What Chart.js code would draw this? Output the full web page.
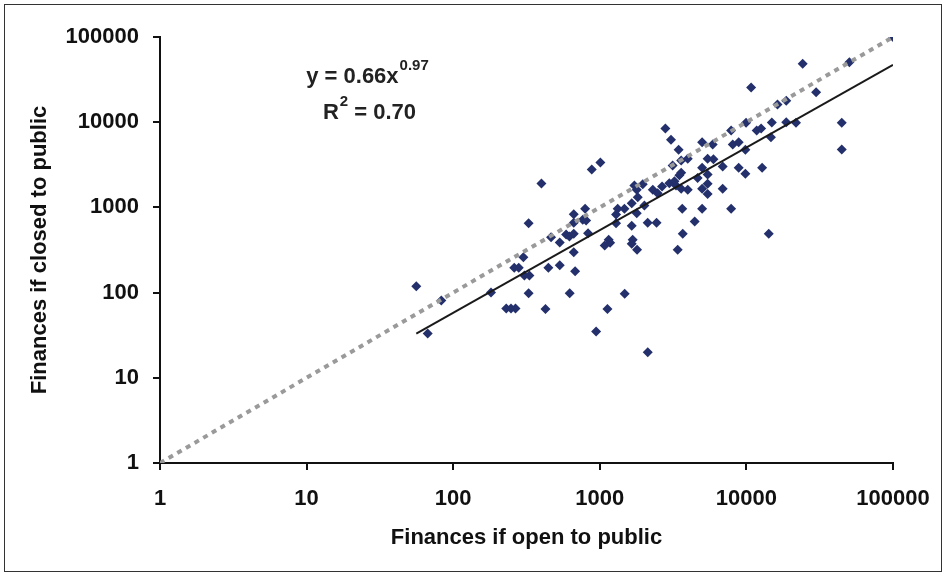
<!DOCTYPE html>
<html>
<head>
<meta charset="utf-8">
<script src="https://cdn.jsdelivr.net/npm/chart.js@4"></script>
<style>
  html, body { margin: 0; padding: 0; background: #fff; }
  canvas { display: block; }
</style>
</head>
<body>
<canvas id="chart" width="946" height="576"></canvas>
<script>
// Finances if open to public (x) vs. closed to public (y)
const openValues = [
    56, 83, 67, 181, 230, 248, 266, 327, 426, 623, 944, 1127, 1479, 2123,
    301, 261, 280, 306, 331, 446, 533, 679, 664, 533, 465, 589, 621, 664, 832,
    327, 400, 881, 1009, 664, 664, 794, 765, 807, 1080, 1150, 1176, 1291, 1325,
    1472, 1291, 1651, 1651, 1815, 1786, 1963, 1722, 1786, 1676, 1651, 1796, 2015, 2122,
    24200, 50400, 10770, 29900, 16300, 18700, 9950, 14900, 18700, 21800, 44700, 44700,
    2800, 3060, 3450, 4990, 5890, 7870, 8070, 8860, 11750, 12600, 14700, 9840,
    3980, 3590, 3140, 5440, 5960, 6890, 4990, 8860, 12800, 9840, 3590, 3490, 4650, 5440,
    2980, 3230, 3310, 2660, 2300, 2480, 3590, 3980, 4990, 5440, 5440, 6890,
    3650, 4990, 7870, 2440, 4440, 3680, 14200, 3400, 100000
];
const closedValues = [
    119, 81, 33, 100, 65, 65, 65, 98, 64, 98, 35, 64, 97, 20,
    260, 196, 196, 159, 159, 196, 210, 178, 298, 387, 447, 481, 455, 490, 498,
    653, 1910, 2790, 3370, 832, 660, 963, 715, 702, 357, 417, 385, 826, 963,
    963, 653, 608, 1120, 1318, 1610, 1872, 1807, 855, 417, 374, 318, 1052, 660,
    48400, 50600, 25500, 22500, 16100, 17900, 9840, 9900, 10000, 9840, 9840, 4780,
    8430, 6210, 4740, 5820, 5470, 7980, 5470, 5820, 7980, 8430, 6670, 4740,
    3720, 3550, 3100, 3720, 3680, 3020, 2920, 2920, 2920, 2480, 2550, 2390, 2220, 2430,
    1920, 2030, 1810, 1760, 1610, 1470, 1650, 1610, 1650, 1890, 1440, 1650,
    963, 963, 963, 660, 683, 490, 490, 318, 100000
];

// Power trend line ends (y = 0.66x^0.97) and the 1:1 reference line
const trendX = [56, 100000];
const trendY = [33, 47000];
const equalX = [1, 100000];
const equalY = [1, 100000];

const tickValues = [1, 10, 100, 1000, 10000, 100000];

const toPoints = (xs, ys) => xs.map((x, i) => ({ x: x, y: ys[i] }));

const FONT = "'Liberation Sans', Arial, sans-serif";

// Frame + white background
const framePlugin = {
    id: 'frame',
    beforeDraw(chart) {
        const c = chart.ctx;
        c.save();
        c.fillStyle = '#fff';
        c.fillRect(0, 0, chart.width, chart.height);
        c.strokeStyle = '#333';
        c.lineWidth = 1;
        c.strokeRect(4.5, 4.5, chart.width - 9, chart.height - 9);
        c.restore();
    }
};

// Trendline equation text
const equationPlugin = {
    id: 'equation',
    afterDraw(chart) {
        const c = chart.ctx;
        c.save();
        c.fillStyle = '#222';
        c.textBaseline = 'alphabetic';
        c.textAlign = 'left';

        const big = 'bold 22px ' + FONT;
        const small = 'bold 15px ' + FONT;

        // line 1: y = 0.66x^0.97
        c.font = big;
        const a = 'y = 0.66x';
        const aw = c.measureText(a).width;
        c.font = small;
        const bw = c.measureText('0.97').width;
        let x = 367 - (aw + bw) / 2;
        c.font = big;
        c.fillText(a, x, 83);
        c.font = small;
        c.fillText('0.97', x + aw + 1, 70);

        // line 2: R^2 = 0.70
        c.font = big;
        const r = 'R';
        const rw = c.measureText(r).width;
        const rest = ' = 0.70';
        const restW = c.measureText(rest).width;
        c.font = small;
        const sw = c.measureText('2').width;
        x = 369 - (rw + sw + restW) / 2;
        c.font = big;
        c.fillText(r, x, 119);
        c.font = small;
        c.fillText('2', x + rw + 1, 106);
        c.font = big;
        c.fillText(rest, x + rw + sw + 1, 119);
        c.restore();
    }
};

function logAxis(titleText, sizeFn, tickPad, titlePad) {
    return {
        type: 'logarithmic',
        min: 1,
        max: 100000,
        afterBuildTicks: (scale) => { scale.ticks = tickValues.map(v => ({ value: v })); },
        afterFit: sizeFn,
        border: { display: true, color: '#111', width: 2 },
        grid: {
            drawOnChartArea: false,
            drawTicks: true,
            tickLength: 7,
            color: '#111',
            lineWidth: 2
        },
        ticks: {
            color: '#111',
            font: { family: FONT, size: 22, weight: 'bold' },
            padding: tickPad,
            autoSkip: false,
            maxRotation: 0,
            callback: (value) => String(value)
        },
        title: {
            display: true,
            text: titleText,
            color: '#111',
            font: { family: FONT, size: 22, weight: 'bold' },
            padding: titlePad
        }
    };
}

new Chart(document.getElementById('chart'), {
    type: 'scatter',
    data: {
        datasets: [
            {
                label: 'Trend',
                type: 'line',
                data: toPoints(trendX, trendY),
                borderColor: '#1a1a1a',
                borderWidth: 2,
                pointRadius: 0,
                fill: false,
                order: 1
            },
            {
                label: 'Equal',
                type: 'line',
                data: toPoints(equalX, equalY),
                borderColor: '#9a9a9a',
                borderWidth: 4,
                borderDash: [5, 5],
                borderCapStyle: 'butt',
                pointRadius: 0,
                fill: false,
                order: 2
            },
            {
                label: 'Finances',
                data: toPoints(openValues, closedValues),
                pointStyle: 'rectRot',
                pointRadius: 5,
                pointBackgroundColor: '#23306b',
                pointBorderColor: '#23306b',
                pointBorderWidth: 0,
                order: 3
            }
        ]
    },
    options: {
        responsive: false,
        animation: false,
        devicePixelRatio: 1,
        layout: { padding: { left: 0, right: 53, top: 37, bottom: 0 } },
        plugins: {
            legend: { display: false },
            tooltip: { enabled: false }
        },
        scales: {
            x: logAxis('Finances if open to public', (s) => { s.height = 113; }, 16, { top: 0, bottom: 25 }),
            y: logAxis('Finances if closed to public', (s) => { s.width = 160; }, 14, { top: 27, bottom: 0 })
        }
    },
    plugins: [framePlugin, equationPlugin]
});
</script>
</body>
</html>
